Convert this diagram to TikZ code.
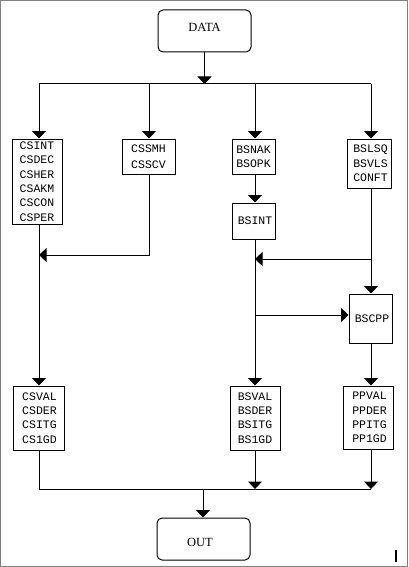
\documentclass[tikz,border=0pt]{standalone}
\usepackage{fontspec}
\usetikzlibrary{arrows.meta}
\newfontfamily\monof{Liberation Mono}
\newfontfamily\seriff{Liberation Serif}
\tikzset{
  box/.style={draw, line width=1pt, rectangle, inner sep=0pt, align=center,
    font={\monof\fontsize{11.5}{14.3}\selectfont}},
  term/.style={draw, line width=1pt, rounded corners=5pt, inner sep=0pt},
  lbl/.style={inner sep=0pt, font={\seriff\fontsize{12.5}{15}\selectfont}},
  ln/.style={line width=1pt},
  arr/.style={ln, -{Triangle[length=7.5pt,width=14pt]}},
}
\begin{document}
\begin{tikzpicture}[x=1pt,y=-1pt]
\useasboundingbox (0,0) rectangle (408,567);
\draw[gray, line width=1.2pt] (0.6,0.6) rectangle (407.4,566.4);
% terminals
\node[term, minimum width=93pt, minimum height=42pt] (data) at (204.5,31) {};
\node[lbl] (datat) at (204.5,27) {DATA};
\node[term, minimum width=93pt, minimum height=42pt] (out) at (203.5,539) {};
\node[lbl] (outt) at (200,542) {OUT};
% boxes
\node[box, minimum width=50pt, minimum height=85pt] (csint) at (37,181.5) {CSINT\\CSDEC\\CSHER\\CSAKM\\CSCON\\CSPER};
\node[box, minimum width=53pt, minimum height=35pt] (cssmh) at (148.5,156.5) {CSSMH\\[2pt]CSSCV};
\node[box, minimum width=43pt, minimum height=35pt] (bsnak) at (253.5,156.5) {BSNAK\\BSOPK};
\node[box, minimum width=44pt, minimum height=49pt] (bslsq) at (369,163.5) {\hspace*{3pt}BSLSQ\\\hspace*{3pt}BSVLS\\\hspace*{3pt}CONFT};
\node[box, minimum width=43pt, minimum height=36pt] (bsint) at (253.5,221) {\hspace*{3pt}BSINT};
\node[box, minimum width=43pt, minimum height=49pt] (bscpp) at (370.5,318.5) {\hspace*{3pt}BSCPP};
\node[box, minimum width=51pt, minimum height=64pt] (csval) at (38.5,418) {\hspace*{2pt}CSVAL\\\hspace*{2pt}CSDER\\\hspace*{2pt}CSITG\\\hspace*{2pt}CS1GD};
\node[box, minimum width=50pt, minimum height=64pt] (bsval) at (255,418) {BSVAL\\BSDER\\BSITG\\BS1GD};
\node[box, minimum width=50pt, minimum height=63pt] (ppval) at (368.5,417.5) {\hspace*{2pt}PPVAL\\\hspace*{2pt}PPDER\\\hspace*{2pt}PPITG\\\hspace*{2pt}PP1GD};
% coordinates
\coordinate (b1) at (39,84);
\coordinate (b2) at (149,84);
\coordinate (b3) at (255,84);
\coordinate (b4) at (371,84);
\coordinate (bc) at (204.5,84);
\coordinate (j1) at (149,255);
\coordinate (j2) at (371,259);
\coordinate (j3) at (255,315);
\coordinate (bb) at (203,489);
% top bus
\draw[arr] (data.south) -- (bc);
\draw[ln] (b1) -- (b4);
\draw[arr] (b1) -- (b1 |- csint.north);
\draw[arr] (b2) -- (b2 |- cssmh.north);
\draw[arr] (b3) -- (b3 |- bsnak.north);
\draw[arr] (b4) -- (b4 |- bslsq.north);
% middle
\draw[arr] (bsnak.south -| b3) -- (bsint.north -| b3);
\draw[arr] (cssmh.south -| b2) -- (j1) -- (j1 -| b1);
\draw[arr] (csint.south -| b1) -- (csval.north -| b1);
\draw[arr] (bslsq.south -| b4) -- (bscpp.north -| b4);
\draw[arr] (j2) -- (j2 -| b3);
\draw[arr] (bsint.south -| b3) -- (bsval.north -| b3);
\draw[arr] (j3) -- (bscpp.west |- j3);
\draw[arr] (bscpp.south -| b4) -- (ppval.north -| b4);
% bottom bus
\draw[ln] (csval.south -| b1) -- (b1 |- bb) -- (b4 |- bb);
\draw[arr] (bsval.south -| b3) -- (b3 |- bb);
\draw[arr] (ppval.south -| b4) -- (b4 |- bb);
\draw[arr] (bb) -- (out.north -| bb);
% small mark
\draw[line width=2pt] (396,550) -- (396,562);
\end{tikzpicture}
\end{document}
